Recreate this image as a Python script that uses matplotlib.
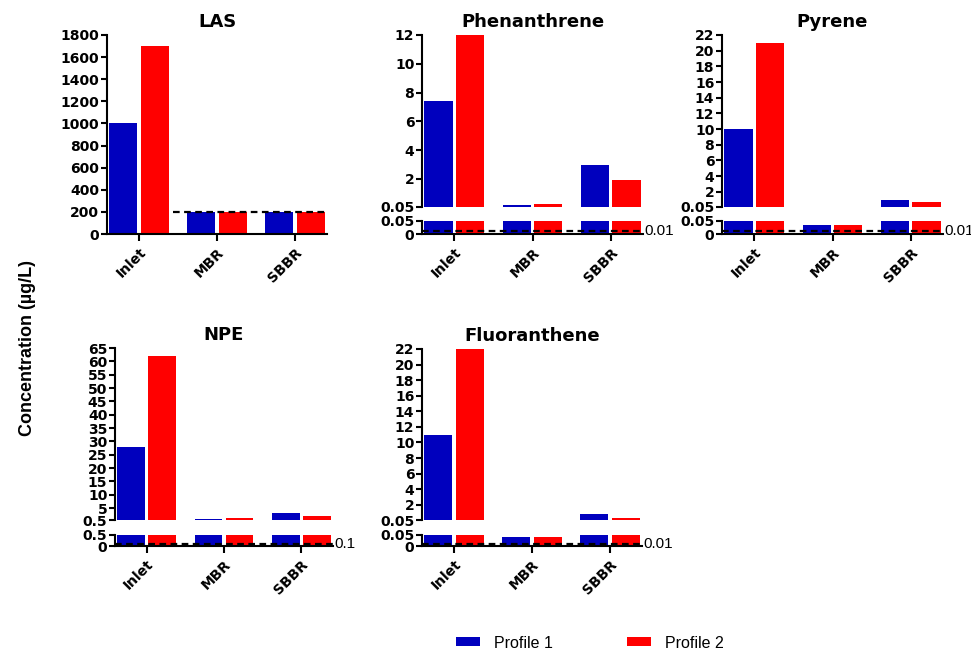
#!/usr/bin/env python3
"""
Concentration of LAS, NPE and PAHs for two sampling profiles (Inlet / MBR / SBBR).
Broken y axes in GraphPad style for the low-concentration panels.
"""
import matplotlib
matplotlib.use('Agg')
import matplotlib.pyplot as plt
import matplotlib.patches as patches
import numpy as np

plt.rcParams['font.family'] = ['Liberation Sans', 'DejaVu Sans']

# Data
CATEGORIES = ['Inlet', 'MBR', 'SBBR']

LAS_P1 = [1000, 200, 200]
LAS_P2 = [1700, 200, 200]
LAS_LIMIT = 200
LAS_TICKS = [0, 200, 400, 600, 800, 1000, 1200, 1400, 1600, 1800]

PHE_P1 = [7.4, 0.2, 3.0]
PHE_P2 = [12.0, 0.25, 1.9]
PHE_LIMIT = 0.01
PHE_BREAK = 0.05
PHE_TICKS = [0.05, 2, 4, 6, 8, 10, 12]

PYR_P1 = [10.0, 0.035, 0.95]
PYR_P2 = [21.0, 0.035, 0.65]
PYR_LIMIT = 0.01
PYR_BREAK = 0.05
PYR_TICKS = [0.05, 2, 4, 6, 8, 10, 12, 14, 16, 18, 20, 22]

NPE_P1 = [28.0, 0.9, 3.0]
NPE_P2 = [62.0, 1.2, 2.0]
NPE_LIMIT = 0.1
NPE_BREAK = 0.5
NPE_TICKS = [0.5, 5, 10, 15, 20, 25, 30, 35, 40, 45, 50, 55, 60, 65]

FLU_P1 = [11.0, 0.04, 0.8]
FLU_P2 = [22.0, 0.04, 0.35]
FLU_LIMIT = 0.01
FLU_BREAK = 0.05
FLU_TICKS = [0.05, 2, 4, 6, 8, 10, 12, 14, 16, 18, 20, 22]

# Style
BLUE = '#0000BE'
RED = '#FF0000'
BAR_W = 0.36
OFFSET = 0.2
XLIM = (-0.41, 2.41)
FIG_W, FIG_H = 971, 650
TICK_FS = 10
SPINE_W = 1.5
BOLD_FONT = 'DejaVu Sans'   # wide bold face, closer to the stretched look of the original


def fig_rect(left, top, right, bottom):
    """Pixel box (top-left origin) -> figure fraction rect."""
    return [left / FIG_W, 1 - bottom / FIG_H, (right - left) / FIG_W, (bottom - top) / FIG_H]


def fmt(v):
    return f"{v:g}"


def style_axis(ax):
    for s in ('top', 'right'):
        ax.spines[s].set_visible(False)
    for s in ('left', 'bottom'):
        ax.spines[s].set_linewidth(SPINE_W)
    ax.tick_params(axis='y', direction='out', length=4, width=SPINE_W, pad=1.5)
    for lab in ax.get_yticklabels() + ax.get_xticklabels():
        lab.set_fontweight('bold')
        lab.set_family(BOLD_FONT)
        lab.set_fontsize(TICK_FS)


def draw_bars(ax, p1, p2):
    x = np.arange(len(CATEGORIES))
    ax.bar(x - OFFSET, p1, BAR_W, color=BLUE, edgecolor='none', zorder=2)
    ax.bar(x + OFFSET, p2, BAR_W, color=RED, edgecolor='none', zorder=2)
    ax.set_xlim(*XLIM)


def set_xcats(ax):
    ax.set_xticks(np.arange(len(CATEGORIES)))
    ax.set_xticklabels(CATEGORIES, rotation=45, ha='right', rotation_mode='anchor')
    ax.tick_params(axis='x', direction='out', length=5, width=SPINE_W, pad=3)


def add_title(ax, title):
    ax.set_title(title, fontsize=13, fontweight='bold', family=BOLD_FONT, pad=6)


def draw_simple(fig, rect, title, p1, p2, limit, ticks):
    ax = fig.add_axes(rect)
    draw_bars(ax, p1, p2)
    ax.set_ylim(ticks[0], ticks[-1])
    ax.set_yticks(ticks)
    ax.set_yticklabels([fmt(t) for t in ticks])
    ax.plot([0.43, XLIM[1]], [limit, limit], color='black', lw=1.6,
            linestyle=(0, (3, 2)), zorder=3, clip_on=False)
    set_xcats(ax)
    style_axis(ax)
    add_title(ax, title)
    return ax


def draw_broken(fig, box, title, p1, p2, limit, brk, ticks):
    left, top, right, brk_top, brk_bot, bottom = box
    upper = fig.add_axes(fig_rect(left, top, right, brk_top))
    lower = fig.add_axes(fig_rect(left, brk_bot, right, bottom))

    draw_bars(upper, p1, p2)
    upper.set_ylim(brk, ticks[-1])
    upper.set_yticks(ticks)
    upper.set_yticklabels([fmt(t) for t in ticks])
    upper.spines['bottom'].set_visible(False)
    upper.set_xticks([])
    style_axis(upper)
    add_title(upper, title)

    draw_bars(lower, p1, p2)
    lower.set_ylim(0, brk)
    lower.set_yticks([0, brk])
    lower.set_yticklabels(['0', fmt(brk)])
    lower.plot(XLIM, [limit, limit], color='black', lw=1.6,
               linestyle=(0, (3, 2)), zorder=3, clip_on=False)
    lower.text(XLIM[1] + 0.02, limit, fmt(limit), fontsize=11, va='center', ha='left')
    set_xcats(lower)
    style_axis(lower)
    return upper, lower


def main():
    fig = plt.figure(figsize=(FIG_W / 100, FIG_H / 100), dpi=100)

    draw_simple(fig, fig_rect(107, 35, 327, 234), 'LAS', LAS_P1, LAS_P2, LAS_LIMIT, LAS_TICKS)
    draw_broken(fig, (422, 35, 643, 207, 221, 234), 'Phenanthrene',
                PHE_P1, PHE_P2, PHE_LIMIT, PHE_BREAK, PHE_TICKS)
    draw_broken(fig, (722, 35, 943, 207, 221, 234), 'Pyrene',
                PYR_P1, PYR_P2, PYR_LIMIT, PYR_BREAK, PYR_TICKS)
    draw_broken(fig, (115, 348, 333, 520, 535, 546), 'NPE',
                NPE_P1, NPE_P2, NPE_LIMIT, NPE_BREAK, NPE_TICKS)
    draw_broken(fig, (422, 349, 642, 520, 535, 546), 'Fluoranthene',
                FLU_P1, FLU_P2, FLU_LIMIT, FLU_BREAK, FLU_TICKS)

    fig.text(28 / FIG_W, 1 - 348 / FIG_H, 'Concentration (µg/L)', rotation=90,
             fontsize=13, fontweight='bold', ha='center', va='center')

    handles = [patches.Patch(facecolor=BLUE, label='Profile 1'),
               patches.Patch(facecolor=RED, label='Profile 2')]
    fig.legend(handles=handles, loc='center', bbox_to_anchor=(590 / FIG_W, 1 - 643 / FIG_H),
               ncol=2, frameon=False, fontsize=11.5, handlelength=1.5, handleheight=0.5,
               handletextpad=0.9, columnspacing=4.6)

    plt.savefig('out.png', dpi=100, facecolor='white')
    plt.close()


if __name__ == "__main__":
    main()
